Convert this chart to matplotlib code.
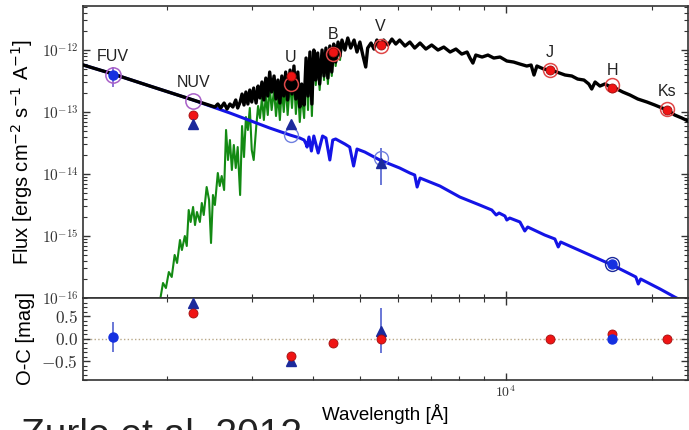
import numpy as np
import matplotlib.pyplot as plt
from matplotlib.ticker import LogLocator, FuncFormatter, MultipleLocator, NullFormatter

plt.rcParams['font.family'] = ['Liberation Sans', 'DejaVu Sans']
plt.rcParams['mathtext.fontset'] = 'cm'

# white dwarf model: log10 wavelength [A], log10 flux
wd_loglam = [3.122, 3.190, 3.266, 3.355, 3.431, 3.513, 3.555, 3.575, 3.584, 3.588,
             3.590, 3.594, 3.599, 3.604, 3.613, 3.622, 3.629, 3.637, 3.643, 3.649,
             3.668, 3.678, 3.686, 3.693, 3.709, 3.740, 3.781, 3.802, 3.812, 3.817,
             3.823, 3.864, 3.905, 3.946, 3.971, 3.980, 3.986, 3.998, 4.002, 4.008,
             4.029, 4.039, 4.045, 4.080, 4.101, 4.108, 4.113, 4.173, 4.219, 4.256,
             4.268, 4.273, 4.278, 4.318, 4.348, 4.384]
wd_logflux = [-12.226, -12.387, -12.581, -12.806, -13.016, -13.258, -13.371, -13.419, -13.452, -13.516,
              -13.565, -13.403, -13.629, -13.387, -13.661, -13.387, -13.419, -13.774, -13.452, -13.435,
              -13.516, -13.565, -13.871, -13.597, -13.645, -13.774, -13.903, -13.984, -14.016, -14.210,
              -14.065, -14.194, -14.371, -14.500, -14.581, -14.661, -14.629, -14.677, -14.742, -14.710,
              -14.774, -14.919, -14.855, -14.984, -15.048, -15.177, -15.097, -15.306, -15.468, -15.613,
              -15.661, -15.774, -15.694, -15.855, -15.984, -16.129]

# cool companion model
cs_loglam = [3.282, 3.287, 3.293, 3.299, 3.305, 3.311, 3.317, 3.322, 3.328, 3.332,
             3.338, 3.342, 3.346, 3.350, 3.355, 3.359, 3.363, 3.369, 3.373, 3.377,
             3.383, 3.388, 3.392, 3.396, 3.400, 3.406, 3.410, 3.414, 3.419, 3.423,
             3.427, 3.431, 3.435, 3.439, 3.443, 3.447, 3.452, 3.456, 3.460, 3.464,
             3.468, 3.472, 3.476, 3.480, 3.485, 3.489, 3.493, 3.497, 3.501, 3.505,
             3.509, 3.513, 3.517, 3.522, 3.526, 3.530, 3.534, 3.538, 3.542, 3.546,
             3.550, 3.555, 3.559, 3.563, 3.567, 3.571, 3.575, 3.579, 3.584, 3.588,
             3.592, 3.596, 3.600, 3.604, 3.608, 3.612, 3.616, 3.621, 3.625, 3.629,
             3.633, 3.637, 3.641, 3.645, 3.649, 3.654, 3.658, 3.662]
cs_logflux = [-16.129, -16.032, -15.758, -15.839, -15.581, -15.661, -15.306, -15.435, -15.065, -15.226,
              -15.000, -15.161, -14.581, -14.774, -14.532, -14.823, -14.613, -14.774, -14.468, -14.661,
              -14.210, -14.419, -15.113, -14.339, -14.500, -13.984, -14.194, -14.032, -14.258, -13.290,
              -13.774, -13.452, -13.935, -13.532, -13.903, -13.565, -14.339, -13.226, -13.726, -13.081,
              -13.290, -12.935, -13.613, -13.774, -13.258, -12.903, -13.097, -12.774, -13.129, -12.726,
              -13.048, -12.581, -12.968, -12.645, -13.065, -12.726, -13.129, -12.613, -13.000, -12.548,
              -13.048, -12.516, -12.935, -12.452, -13.032, -12.581, -13.161, -12.726, -13.097, -12.290,
              -12.968, -12.161, -13.065, -12.081, -12.565, -12.129, -12.645, -12.065, -12.484, -12.032,
              -12.548, -12.000, -12.419, -11.968, -12.258, -11.919, -12.161, -11.871]

# composite model
tot_loglam = [3.122, 3.190, 3.266, 3.355, 3.400, 3.406, 3.412, 3.419, 3.425, 3.431,
              3.437, 3.443, 3.447, 3.452, 3.456, 3.460, 3.464, 3.468, 3.472, 3.476,
              3.480, 3.485, 3.489, 3.493, 3.497, 3.501, 3.505, 3.509, 3.513, 3.517,
              3.522, 3.526, 3.530, 3.534, 3.538, 3.542, 3.546, 3.550, 3.555, 3.559,
              3.563, 3.567, 3.571, 3.575, 3.579, 3.584, 3.588, 3.592, 3.596, 3.600,
              3.604, 3.608, 3.612, 3.616, 3.621, 3.625, 3.629, 3.633, 3.637, 3.641,
              3.645, 3.649, 3.654, 3.658, 3.662, 3.668, 3.674, 3.680, 3.687, 3.693,
              3.699, 3.705, 3.711, 3.715, 3.722, 3.728, 3.734, 3.740, 3.748, 3.757,
              3.765, 3.773, 3.781, 3.792, 3.802, 3.812, 3.823, 3.835, 3.847, 3.860,
              3.872, 3.885, 3.897, 3.909, 3.920, 3.926, 3.932, 3.938, 3.951, 3.963,
              3.975, 3.988, 4.002, 4.016, 4.029, 4.043, 4.052, 4.058, 4.064, 4.078,
              4.091, 4.105, 4.122, 4.136, 4.148, 4.161, 4.171, 4.177, 4.184, 4.194,
              4.204, 4.217, 4.229, 4.241, 4.256, 4.272, 4.291, 4.307, 4.322, 4.334,
              4.348, 4.363, 4.384]
tot_logflux = [-12.226, -12.387, -12.581, -12.806, -12.919, -12.871, -12.935, -12.855, -12.952, -12.871,
               -12.919, -12.806, -12.935, -12.839, -12.710, -12.887, -12.677, -12.871, -12.645, -12.839,
               -12.613, -12.855, -12.581, -12.774, -12.516, -12.806, -12.452, -12.742, -12.355, -12.677,
               -12.419, -12.790, -12.484, -12.855, -12.419, -12.742, -12.355, -12.806, -12.323, -12.710,
               -12.258, -12.790, -12.355, -12.919, -12.548, -12.887, -12.129, -12.742, -12.032, -12.871,
               -12.000, -12.484, -12.048, -12.548, -12.000, -12.419, -11.968, -12.452, -11.935, -12.355,
               -11.903, -12.194, -11.871, -12.097, -11.839, -12.000, -11.806, -11.968, -11.839, -12.032,
               -11.871, -12.081, -12.274, -11.968, -11.887, -11.984, -11.839, -11.935, -11.839, -11.919,
               -11.823, -11.903, -11.839, -11.935, -11.871, -11.968, -11.887, -11.984, -11.919, -12.000,
               -11.952, -12.032, -11.984, -12.065, -12.032, -12.129, -12.210, -12.081, -12.113, -12.081,
               -12.129, -12.113, -12.177, -12.194, -12.226, -12.258, -12.242, -12.403, -12.258, -12.306,
               -12.323, -12.355, -12.403, -12.419, -12.468, -12.484, -12.548, -12.629, -12.516, -12.581,
               -12.548, -12.597, -12.629, -12.677, -12.726, -12.790, -12.839, -12.887, -12.935, -12.968,
               -13.048, -13.097, -13.177]

# photometry
bands = ['FUV', 'NUV', 'U', 'B', 'V', 'J', 'H', 'Ks']
band_lam = [1550, 2265, 3600, 4400, 5520, 12320, 16560, 21540]
label_logflux = [-12.097, -12.524, -12.113, -11.742, -11.613, -12.032, -12.323, -12.677]

obs_bands = ['NUV', 'U', 'B', 'V', 'J', 'H', 'Ks']
obs_logflux = [-13.048, -12.419, -12.032, -11.919, -12.323, -12.613, -12.968]
mod_bands = ['U', 'B', 'V', 'J', 'H', 'Ks']
mod_logflux = [-12.548, -12.065, -11.935, -12.323, -12.565, -12.952]
uv_bands = ['FUV', 'NUV']
uv_mod_logflux = [-12.403, -12.823]
fuv_logflux, fuv_lo, fuv_hi = -12.403, -12.597, -12.27
wd_obs_bands = ['NUV', 'U', 'V']
wd_obs_logflux = [-13.194, -13.194, -13.823]
v_wd_lo, v_wd_hi = -14.177, -13.581
wd_mod_bands = ['U', 'V']
wd_mod_logflux = [-13.371, -13.742]
h_wd_logflux = -15.452

# O-C residuals [mag]
oc_obs = [0.56, -0.37, -0.09, 0.0, 0.0, 0.10, 0.0]
oc_wd_bands = ['NUV', 'U', 'V']
oc_wd = [0.80, -0.49, 0.18]
oc_wd_err = [0.0, 0.0, 0.5]
oc_fuv, oc_fuv_err = 0.03, 0.33
oc_h_wd = 0.0

lam = dict(zip(bands, band_lam))
def L(names):
    return [lam[n] for n in names]
def F(v):
    return 10 ** np.asarray(v, dtype=float)

fig = plt.figure(figsize=(6.89, 4.30), dpi=100)
ax1 = fig.add_axes([0.1205, 0.307, 0.878, 0.679])
ax2 = fig.add_axes([0.1205, 0.1174, 0.878, 0.1896], sharex=ax1)

red, redm = '#f01414', '#e04848'
navy, blue = '#1c2a9c', '#1530e0'

ax1.plot(F(cs_loglam), F(cs_logflux), color='#138a13', lw=1.5, zorder=1)
ax1.plot(F(wd_loglam), F(wd_logflux), color='#1414e6', lw=2.2, zorder=2)
ax1.plot(F(tot_loglam), F(tot_logflux), color='black', lw=2.4, zorder=3)

ax1.errorbar([lam['FUV']], [F(fuv_logflux)],
             yerr=[[F(fuv_logflux) - F(fuv_lo)], [F(fuv_hi) - F(fuv_logflux)]],
             fmt='none', ecolor='#7a5ad0', lw=1.2, zorder=4)
ax1.plot(L(uv_bands), F(uv_mod_logflux), 'o', ms=11, mfc='none', mec='#a860c8', mew=1.1, zorder=5)
ax1.plot([lam['FUV']], [F(fuv_logflux)], 'o', ms=6.5, color=blue, zorder=6)
ax1.plot(L(mod_bands), F(mod_logflux), 'o', ms=10, mfc='none', mec=redm, mew=1.1, zorder=5)
ax1.plot(L(obs_bands), F(obs_logflux), 'o', ms=6.5, mfc=red, mec='#a01010', mew=0.6, zorder=6)
ax1.errorbar([lam['V']], [F(wd_obs_logflux[2])],
             yerr=[[F(wd_obs_logflux[2]) - F(v_wd_lo)], [F(v_wd_hi) - F(wd_obs_logflux[2])]],
             fmt='none', ecolor='#5060d0', lw=1.2, zorder=4)
ax1.plot(L(wd_mod_bands), F(wd_mod_logflux), 'o', ms=10, mfc='none', mec='#7080e0', mew=1.0, zorder=5)
ax1.plot(L(wd_obs_bands), F(wd_obs_logflux), '^', ms=6.5, color=navy, zorder=6)
ax1.plot([lam['H']], [F(h_wd_logflux)], 'o', ms=10, mfc='none', mec=navy, mew=1.0, zorder=5)
ax1.plot([lam['H']], [F(h_wd_logflux)], 'o', ms=6.5, color=blue, zorder=6)

for b, x, y in zip(bands, band_lam, label_logflux):
    ax1.text(x, 10 ** y, b, ha='center', va='center', fontsize=11.5, color='#222222')

ax1.set_xscale('log')
ax1.set_yscale('log')
ax1.set_xlim(1343, 23740)
ax1.set_ylim(1e-16, 10 ** -11.29)
ax1.yaxis.set_major_locator(LogLocator(base=10, numticks=20))
ax1.yaxis.set_minor_locator(LogLocator(base=10, subs=np.arange(2, 10), numticks=20))
ax1.yaxis.set_major_formatter(FuncFormatter(lambda v, p: r'$10^{%d}$' % round(np.log10(v))))
ax1.yaxis.set_minor_formatter(NullFormatter())
ax1.set_ylabel(r'Flux [ergs cm$^{-2}$ s$^{-1}$ A$^{-1}$]', fontsize=14.5,
               math_fontfamily='dejavusans')
ax1.yaxis.set_label_coords(-0.08, 0.5)

ax2.axhline(0, color='#b8a888', ls=':', lw=1, zorder=1)
ax2.errorbar(L(oc_wd_bands), oc_wd, yerr=oc_wd_err, fmt='^', ms=6.5, color=navy,
             ecolor='#5060d0', elinewidth=1.2, zorder=3)
ax2.errorbar([lam['FUV']], [oc_fuv], yerr=[oc_fuv_err], fmt='o', ms=6.5, color=blue,
             ecolor='#5060d0', elinewidth=1.2, zorder=3)
ax2.plot(L(obs_bands), oc_obs, 'o', ms=6.5, mfc=red, mec='#a01010', mew=0.6, zorder=4)
ax2.plot([lam['H']], [oc_h_wd], 'o', ms=6.5, color=blue, zorder=5)
ax2.set_ylim(-0.9, 0.9)
ax2.yaxis.set_major_locator(MultipleLocator(0.5))
ax2.yaxis.set_minor_locator(MultipleLocator(0.1))
ax2.yaxis.set_major_formatter(FuncFormatter(lambda v, p: r'$%.1f$' % v))
ax2.xaxis.set_major_formatter(FuncFormatter(lambda v, p: r'$10^{%d}$' % round(np.log10(v))))
ax2.xaxis.set_minor_formatter(NullFormatter())
ax2.set_ylabel('O-C [mag]', fontsize=14.5)
ax2.yaxis.set_label_coords(-0.08, 0.5)
ax2.set_xlabel('Wavelength [Å]', fontsize=13.5, labelpad=3)

for ax in (ax1, ax2):
    ax.tick_params(which='both', direction='in', top=True, right=True, colors='#333333')
    ax.tick_params(which='major', length=5, width=1)
    ax.tick_params(which='minor', length=3, width=0.8)
    for s in ax.spines.values():
        s.set_color('#333333')
        s.set_linewidth(1.2)
ax1.tick_params(labelbottom=False, labelsize=11)
ax2.tick_params(axis='y', labelsize=12.5)
ax2.tick_params(axis='x', labelsize=10)

fig.text(0.03, -0.037, 'Zurlo et al. 2012', fontsize=28, va='baseline', color='#222222')

fig.savefig('out.png', dpi=100)
